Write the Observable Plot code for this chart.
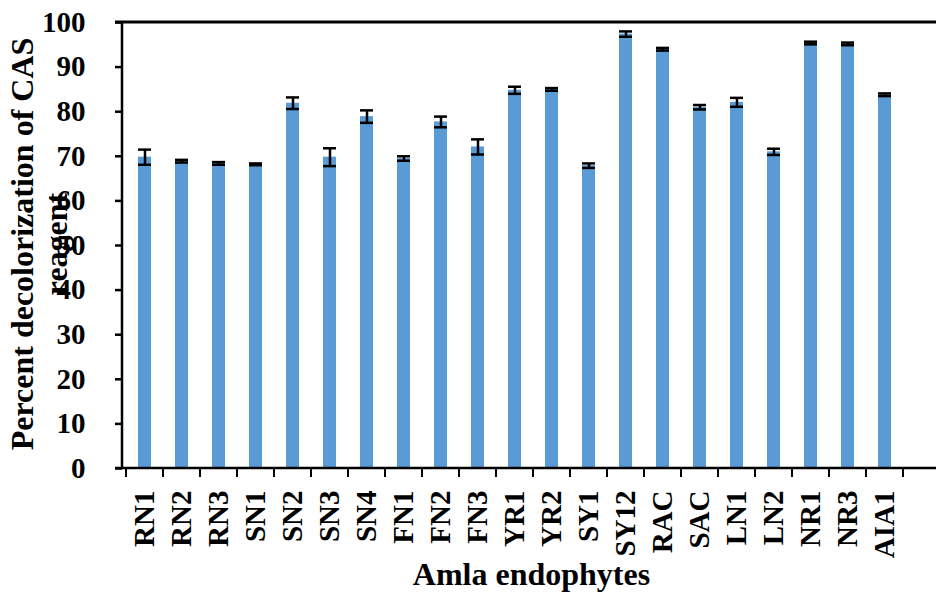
<!DOCTYPE html>
<html>
<head>
<meta charset="utf-8">
<script src="https://cdn.jsdelivr.net/npm/d3@7"></script>
<script src="https://cdn.jsdelivr.net/npm/@observablehq/plot@0.6"></script>
<style>
  html, body { margin: 0; padding: 0; background: #fff; }
</style>
</head>
<body>
<div id="chart"></div>
<script>
const categories = ["RN1","RN2","RN3","SN1","SN2","SN3","SN4","FN1","FN2","FN3","YR1","YR2","SY1","SY12","RAC","SAC","LN1","LN2","NR1","NR3","AIA1"];
const means = [69.8, 68.9, 68.4, 68.2, 81.9, 69.8, 78.9, 69.5, 77.7, 72.1, 84.8, 85.0, 67.9, 97.4, 94.0, 81.0, 82.1, 71.0, 95.4, 95.2, 83.8];
const errors = [1.7, 0.3, 0.3, 0.2, 1.3, 2.0, 1.4, 0.5, 1.2, 1.7, 0.8, 0.3, 0.5, 0.6, 0.3, 0.5, 1.0, 0.7, 0.3, 0.3, 0.3];
const yTicks = [0, 10, 20, 30, 40, 50, 60, 70, 80, 90, 100];
const yTitleLines = ["Percent decolorization of CAS", "reagent"];
const xTitle = "Amla endophytes";

const data = categories.map((c, i) => ({cat: c, v: means[i], lo: means[i] - errors[i], hi: means[i] + errors[i]}));

const barColor = "#5B9BD5";
const fontFamily = "'Liberation Serif', 'Times New Roman', serif";

function frameLines(index, scales, values, dims) {
  const x = scales.x, y = scales.y;
  const g = d3.create("svg:g").attr("stroke", "black").attr("fill", "none");
  const step = x.step(), bw = x.bandwidth();
  const dom = x.domain();
  const half = (step - bw) / 2;
  const edges = dom.map(d => x(d) - half);
  edges.push(x(dom[dom.length - 1]) + bw + half);
  const y0 = y(0), yTop = y(yTicks[yTicks.length - 1]);
  g.append("line").attr("x1", dims.marginLeft - 7).attr("x2", dims.width)
    .attr("y1", y0).attr("y2", y0).attr("stroke-width", 2.5);
  g.append("line").attr("x1", dims.marginLeft - 7).attr("x2", dims.width)
    .attr("y1", yTop).attr("y2", yTop).attr("stroke-width", 3);
  g.append("line").attr("x1", dims.marginLeft).attr("x2", dims.marginLeft)
    .attr("y1", yTop).attr("y2", y0 + 1).attr("stroke-width", 2.5);
  for (const e of edges) {
    g.append("line").attr("x1", e).attr("x2", e)
      .attr("y1", y0).attr("y2", y0 + 9).attr("stroke-width", 2);
  }
  return g.node();
}

function titles(index, scales, values, dims) {
  const y = scales.y;
  const g = d3.create("svg:g")
    .attr("fill", "black")
    .attr("font-family", fontFamily)
    .attr("font-weight", "bold")
    .attr("font-size", 32)
    .attr("text-anchor", "middle");
  const yMid = (y(0) + y(100)) / 2 - 1;
  const baseX = [33, 67];
  yTitleLines.forEach((t, i) => {
    g.append("text")
      .attr("transform", `translate(${baseX[i]},${yMid}) rotate(-90)`)
      .text(t);
  });
  const xMid = (dims.marginLeft + dims.width - dims.marginRight) / 2 + 17;
  g.append("text")
    .attr("x", xMid)
    .attr("y", y(0) + 117)
    .text(xTitle);
  return g.node();
}

const chart = Plot.plot({
  width: 936,
  height: 596,
  marginTop: 22,
  marginBottom: 128,
  marginLeft: 122,
  marginRight: 29,
  style: {fontFamily, fontSize: "29px", fontWeight: "bold", color: "black", background: "white"},
  x: {domain: categories, paddingInner: 0.645, paddingOuter: 0.3225, label: null},
  y: {domain: [0, 100], label: null},
  marks: [
    Plot.barY(data, {x: "cat", y: "v", fill: barColor}),
    Plot.ruleX(data, {x: "cat", y1: "lo", y2: "hi", stroke: "black", strokeWidth: 2.5}),
    Plot.tickY(data, {x: "cat", y: "lo", stroke: "black", strokeWidth: 2.5}),
    Plot.tickY(data, {x: "cat", y: "hi", stroke: "black", strokeWidth: 2.5}),
    Plot.axisY({ticks: yTicks, tickSize: 7, tickPadding: 30, tickFormat: d => String(d), label: null, strokeWidth: 2.5}),
    Plot.axisX({tickSize: 0, tickRotate: -90, tickPadding: 22, label: null}),
    frameLines,
    titles
  ]
});
document.getElementById("chart").append(chart);
</script>
</body>
</html>
